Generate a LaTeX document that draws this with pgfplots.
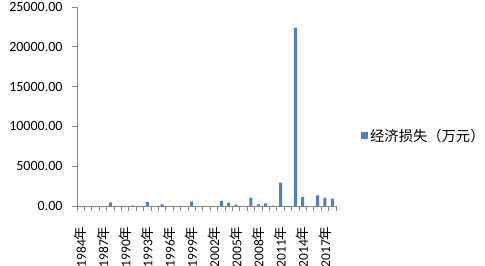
\documentclass[border=0pt]{standalone}
\usepackage{pgfplots}
\pgfplotsset{compat=1.18}
\usepackage{fontspec}
\setmainfont{Carlito}
\newfontfamily\cjk{Noto Sans CJK SC}
\definecolor{barblue}{HTML}{4F81BD}
\definecolor{axgray}{HTML}{868686}
\begin{document}
\begin{tikzpicture}
\useasboundingbox (0,0) rectangle (485bp,266bp);
\begin{axis}[
  at={(77bp,60bp)}, anchor=south west,
  scale only axis, width=259bp, height=199bp,
  xmin=-0.5, xmax=34.5, ymin=0, ymax=25000,
  axis lines*=left,
  axis line style={draw=axgray, line width=0.8pt},
  every outer x axis line/.append style={-}, every outer y axis line/.append style={-},
  ytick={0,5000,10000,15000,20000,25000},
  yticklabel style={font=\fontsize{14bp}{16bp}\selectfont, xshift=-6bp, /pgf/number format/.cd, fixed, fixed zerofill, precision=2, 1000 sep={}, assume math mode=true},
  scaled y ticks=false,
  xtick={0,3,...,33},
  xticklabels={1984{\cjk 年},1987{\cjk 年},1990{\cjk 年},1993{\cjk 年},1996{\cjk 年},1999{\cjk 年},2002{\cjk 年},2005{\cjk 年},2008{\cjk 年},2011{\cjk 年},2014{\cjk 年},2017{\cjk 年}},
  xticklabel shift=12bp,
  xticklabel style={rotate=90, anchor=east, font=\fontsize{13.5bp}{16bp}\selectfont},
  minor xtick={-0.5,0.5,...,34.5},
  major x tick style={draw=none},
  minor x tick style={draw=axgray, line width=0.8pt},
  y tick style={draw=axgray, line width=0.8pt},
  tick align=outside,
  major tick length=5bp, minor tick length=5bp,
  ytick pos=left, xtick pos=bottom,
  ybar, bar width=3bp,
  legend style={at={(1.0965,0.352)}, anchor=west, draw=none, fill=none,
    font=\fontsize{14.3bp}{16bp}\selectfont\cjk, inner sep=0pt},
  legend image code/.code={\fill[barblue] (0bp,-3.5bp) rectangle (7bp,3.5bp);},
]
\addplot[fill=barblue, draw=none] coordinates {
(0,0) (1,0) (2,0) (3,0) (4,450) (5,0) (6,0) (7,40) (8,0) (9,500)
(10,0) (11,200) (12,0) (13,0) (14,0) (15,580) (16,0) (17,0) (18,0) (19,650)
(20,420) (21,180) (22,0) (23,1050) (24,200) (25,330) (26,60) (27,2930) (28,0) (29,22400)
(30,1130) (31,0) (32,1340) (33,1050) (34,920)
};
\addlegendentry{经济损失（万元）}
\end{axis}
\end{tikzpicture}
\end{document}
